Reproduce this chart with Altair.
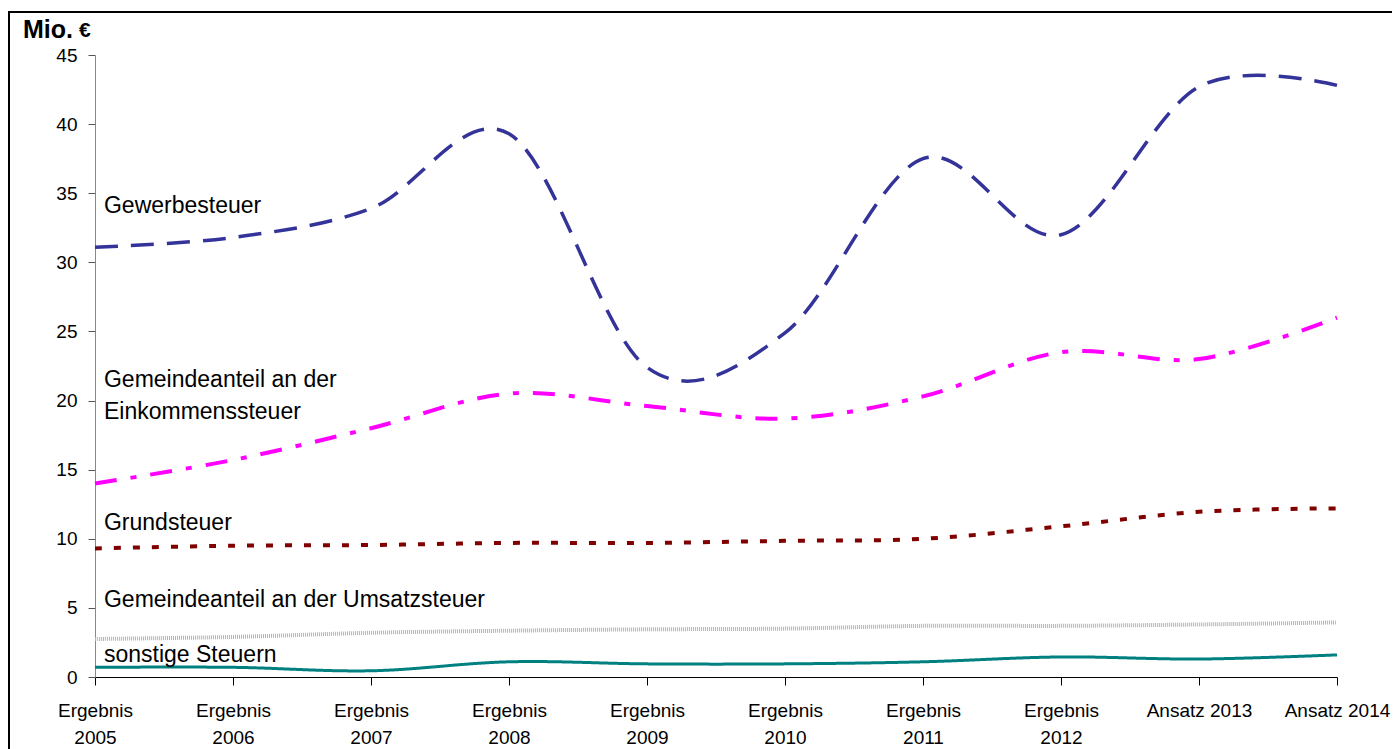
import json
import altair as alt
import pandas as pd

# ---- data ----
categories = ["Ergebnis 2005", "Ergebnis 2006", "Ergebnis 2007", "Ergebnis 2008",
              "Ergebnis 2009", "Ergebnis 2010", "Ergebnis 2011", "Ergebnis 2012",
              "Ansatz 2013", "Ansatz 2014"]
gewerbesteuer = [31.1, 31.8, 33.9, 39.3, 22.4, 24.9, 37.5, 32.0, 42.7, 42.8]
einkommensteuer = [14.0, 15.7, 18.0, 20.5, 19.6, 18.7, 20.3, 23.5, 23.0, 26.0]
grundsteuer = [9.3, 9.5, 9.55, 9.7, 9.7, 9.85, 10.0, 10.9, 11.95, 12.2]
umsatzsteuer = [2.75, 2.9, 3.2, 3.35, 3.45, 3.5, 3.7, 3.7, 3.8, 3.95]
sonstige = [0.7, 0.7, 0.45, 1.1, 0.95, 0.95, 1.1, 1.45, 1.3, 1.6]
y_ticks = [0, 5, 10, 15, 20, 25, 30, 35, 40, 45]

series_names = ["Gewerbesteuer", "Einkommensteuer", "Grundsteuer", "Umsatzsteuer", "sonstige"]
series_values = [gewerbesteuer, einkommensteuer, grundsteuer, umsatzsteuer, sonstige]
series_colors = ["#333399", "#FF00FF", "#800000", "#B4B4B4", "#008080"]
series_dash = [[23, 13], [22, 14, 6, 14], [7, 12], [1, 1], [1, 0]]
series_width = [3.5, 4, 4, 4, 3]

# annotation labels: text, x index, y value
ann_text = ["Gewerbesteuer", "Gemeindeanteil an der", "Einkommenssteuer", "Grundsteuer",
            "Gemeindeanteil an der Umsatzsteuer", "sonstige Steuern"]
ann_x = [0.065, 0.065, 0.065, 0.065, 0.065, 0.065]
ann_y = [33.6, 20.98, 18.7, 10.64, 5.07, 1.09]

# ---- build ----
label_lines = []
for c in categories:
    if c.startswith("Ergebnis"):
        label_lines.append(c.split(" "))
    else:
        label_lines.append(c)
label_expr = json.dumps(label_lines) + "[datum.value]"

W, H = 1242, 622
FONT = "Liberation Sans"

x_enc = alt.X("idx:Q",
              scale=alt.Scale(domain=[0, len(categories) - 1], nice=False, zero=False),
              axis=alt.Axis(values=list(range(len(categories))), labelExpr=label_expr,
                            title=None, grid=False, tickSize=8, tickColor="#000000",
                            domainColor="#000000", labelFontSize=19, labelFont=FONT,
                            labelColor="#000000", labelPadding=16, labelLineHeight=27,
                            labelOverlap=False, labelFlush=False, labelBound=False))
y_enc = alt.Y("value:Q",
              scale=alt.Scale(domain=[0, 45], nice=False),
              axis=alt.Axis(values=y_ticks, title=None, grid=False, tickSize=7,
                            tickColor="#555555", domainColor="#888888",
                            labelFontSize=19, labelFont=FONT, labelColor="#000000",
                            labelPadding=11))

layers = []
for name, vals, col, dash, w in zip(series_names, series_values, series_colors,
                                    series_dash, series_width):
    df = pd.DataFrame({"idx": list(range(len(vals))), "value": vals})
    line = alt.Chart(df).mark_line(color=col, strokeWidth=w, strokeDash=dash,
                                   interpolate="cardinal", strokeCap="butt").encode(
        x=x_enc, y=y_enc)
    layers.append(line)

ann_df = pd.DataFrame({"text": ann_text, "idx": ann_x, "value": ann_y})
ann = alt.Chart(ann_df).mark_text(align="left", baseline="alphabetic", fontSize=23,
                                  font=FONT, color="#000000").encode(
    x=alt.X("idx:Q"), y=alt.Y("value:Q"), text="text:N")
layers.append(ann)

one = pd.DataFrame({"a": [0]})
title1 = alt.Chart(one).mark_text(align="left", baseline="alphabetic", fontSize=25,
                                  fontWeight="bold", font=FONT, color="#000000", text="Mio.").encode(
    x=alt.value(-72), y=alt.value(-17))
title2 = alt.Chart(one).mark_text(align="left", baseline="alphabetic", fontSize=21,
                                  fontWeight="bold", font=FONT, color="#000000", text="€").encode(
    x=alt.value(-16), y=alt.value(-18))
frame = alt.Chart(one).mark_rect(fill="transparent", stroke="#000000", strokeWidth=2).encode(
    x=alt.value(-86), x2=alt.value(1500), y=alt.value(-43), y2=alt.value(800))
layers += [title1, title2, frame]

chart = alt.layer(*layers).properties(
    width=W, height=H,
    padding={"left": 87, "top": 47, "right": 55, "bottom": 76},
    autosize=alt.AutoSizeParams(type="none"),
    background="white",
).configure_view(stroke=None)

chart.save("out.html", embed_options={"renderer": "svg", "actions": False})
